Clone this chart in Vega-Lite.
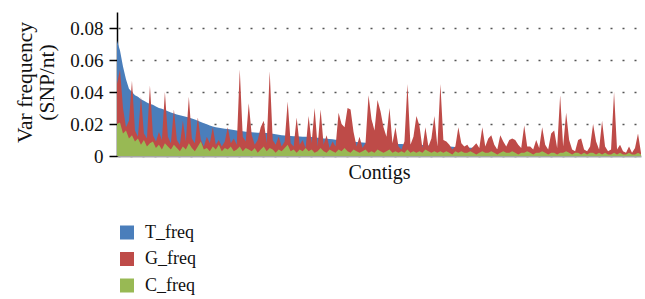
{
  "$schema": "https://vega.github.io/schema/vega-lite/v6.json",
  "autosize": {"type": "none"},
  "padding": {"left": 117, "top": 12, "right": 4, "bottom": 143},
  "width": 524,
  "height": 144,
  "background": "white",
  "config": {
    "font": "Liberation Serif",
    "view": {"stroke": null},
    "axis": {"labelFont": "Liberation Serif", "titleFont": "Liberation Serif", "titleFontWeight": "normal", "labelColor": "#111", "titleColor": "#111"}
  },
  "data": {"values": [
    {"i":0,"T":0.072,"G":0.045,"C":0.020},{"i":1,"T":0.066,"G":0.054,"C":0.021},{"i":2,"T":0.056,"G":0.030,"C":0.014},{"i":3,"T":0.048,"G":0.018,"C":0.016},{"i":4,"T":0.042,"G":0.022,"C":0.011},
    {"i":5,"T":0.040,"G":0.047,"C":0.013},{"i":6,"T":0.038,"G":0.016,"C":0.009},{"i":7,"T":0.037,"G":0.012,"C":0.011},{"i":8,"T":0.0355,"G":0.037,"C":0.007},{"i":9,"T":0.0345,"G":0.014,"C":0.010},
    {"i":10,"T":0.0335,"G":0.011,"C":0.006},{"i":11,"T":0.0325,"G":0.044,"C":0.008},{"i":12,"T":0.032,"G":0.013,"C":0.009},{"i":13,"T":0.031,"G":0.009,"C":0.005},{"i":14,"T":0.030,"G":0.015,"C":0.007},
    {"i":15,"T":0.0295,"G":0.010,"C":0.004},{"i":16,"T":0.0288,"G":0.040,"C":0.008},{"i":17,"T":0.028,"G":0.012,"C":0.006},{"i":18,"T":0.0272,"G":0.008,"C":0.004},{"i":19,"T":0.0265,"G":0.029,"C":0.007},
    {"i":20,"T":0.026,"G":0.010,"C":0.005},{"i":21,"T":0.0255,"G":0.007,"C":0.003},{"i":22,"T":0.025,"G":0.022,"C":0.006},{"i":23,"T":0.0245,"G":0.009,"C":0.004},{"i":24,"T":0.024,"G":0.037,"C":0.008},
    {"i":25,"T":0.0235,"G":0.011,"C":0.005},{"i":26,"T":0.0228,"G":0.008,"C":0.003},{"i":27,"T":0.022,"G":0.024,"C":0.006},{"i":28,"T":0.0213,"G":0.010,"C":0.009},{"i":29,"T":0.0205,"G":0.006,"C":0.004},
    {"i":30,"T":0.0198,"G":0.012,"C":0.005},{"i":31,"T":0.019,"G":0.008,"C":0.003},{"i":32,"T":0.0185,"G":0.018,"C":0.006},{"i":33,"T":0.018,"G":0.007,"C":0.004},{"i":34,"T":0.0177,"G":0.010,"C":0.007},
    {"i":35,"T":0.0174,"G":0.006,"C":0.003},{"i":36,"T":0.0171,"G":0.009,"C":0.005},{"i":37,"T":0.0168,"G":0.018,"C":0.004},{"i":38,"T":0.0165,"G":0.008,"C":0.006},{"i":39,"T":0.0162,"G":0.011,"C":0.003},
    {"i":40,"T":0.016,"G":0.007,"C":0.004},{"i":41,"T":0.0157,"G":0.054,"C":0.006},{"i":42,"T":0.0154,"G":0.012,"C":0.003},{"i":43,"T":0.0152,"G":0.009,"C":0.005},{"i":44,"T":0.015,"G":0.033,"C":0.004},
    {"i":45,"T":0.0148,"G":0.013,"C":0.003},{"i":46,"T":0.0147,"G":0.007,"C":0.005},{"i":47,"T":0.0146,"G":0.010,"C":0.002},{"i":48,"T":0.0145,"G":0.018,"C":0.004},{"i":49,"T":0.0144,"G":0.022,"C":0.006},
    {"i":50,"T":0.0143,"G":0.008,"C":0.003},{"i":51,"T":0.0142,"G":0.053,"C":0.005},{"i":52,"T":0.0139,"G":0.010,"C":0.004},{"i":53,"T":0.0136,"G":0.007,"C":0.002},{"i":54,"T":0.0133,"G":0.012,"C":0.004},
    {"i":55,"T":0.013,"G":0.006,"C":0.003},{"i":56,"T":0.0128,"G":0.009,"C":0.005},{"i":57,"T":0.0126,"G":0.034,"C":0.007},{"i":58,"T":0.0125,"G":0.008,"C":0.003},{"i":59,"T":0.0124,"G":0.006,"C":0.004},
    {"i":60,"T":0.0123,"G":0.024,"C":0.002},{"i":61,"T":0.0122,"G":0.007,"C":0.004},{"i":62,"T":0.0121,"G":0.010,"C":0.003},{"i":63,"T":0.012,"G":0.005,"C":0.005},{"i":64,"T":0.0119,"G":0.025,"C":0.003},
    {"i":65,"T":0.0118,"G":0.008,"C":0.004},{"i":66,"T":0.0116,"G":0.030,"C":0.002},{"i":67,"T":0.0114,"G":0.006,"C":0.003},{"i":68,"T":0.0112,"G":0.029,"C":0.005},{"i":69,"T":0.011,"G":0.007,"C":0.003},
    {"i":70,"T":0.0108,"G":0.013,"C":0.002},{"i":71,"T":0.0106,"G":0.005,"C":0.004},{"i":72,"T":0.0104,"G":0.009,"C":0.003},{"i":73,"T":0.0102,"G":0.006,"C":0.002},{"i":74,"T":0.0100,"G":0.027,"C":0.004},
    {"i":75,"T":0.0098,"G":0.020,"C":0.003},{"i":76,"T":0.0096,"G":0.018,"C":0.005},{"i":77,"T":0.0094,"G":0.030,"C":0.003},{"i":78,"T":0.0092,"G":0.029,"C":0.002},{"i":79,"T":0.0090,"G":0.015,"C":0.004},
    {"i":80,"T":0.0088,"G":0.006,"C":0.003},{"i":81,"T":0.0086,"G":0.012,"C":0.002},{"i":82,"T":0.0084,"G":0.005,"C":0.003},{"i":83,"T":0.0083,"G":0.008,"C":0.004},{"i":84,"T":0.0082,"G":0.038,"C":0.002},
    {"i":85,"T":0.0081,"G":0.023,"C":0.003},{"i":86,"T":0.008,"G":0.016,"C":0.002},{"i":87,"T":0.0079,"G":0.035,"C":0.004},{"i":88,"T":0.0078,"G":0.028,"C":0.003},{"i":89,"T":0.0078,"G":0.018,"C":0.002},
    {"i":90,"T":0.0077,"G":0.012,"C":0.003},{"i":91,"T":0.0077,"G":0.030,"C":0.004},{"i":92,"T":0.0076,"G":0.008,"C":0.002},{"i":93,"T":0.0076,"G":0.018,"C":0.003},{"i":94,"T":0.0075,"G":0.006,"C":0.002},
    {"i":95,"T":0.0075,"G":0.004,"C":0.003},{"i":96,"T":0.0074,"G":0.009,"C":0.002},{"i":97,"T":0.0073,"G":0.045,"C":0.004},{"i":98,"T":0.0072,"G":0.007,"C":0.002},{"i":99,"T":0.0071,"G":0.012,"C":0.003},
    {"i":100,"T":0.0070,"G":0.025,"C":0.002},{"i":101,"T":0.0069,"G":0.019,"C":0.003},{"i":102,"T":0.0068,"G":0.005,"C":0.002},{"i":103,"T":0.0067,"G":0.018,"C":0.004},{"i":104,"T":0.0066,"G":0.006,"C":0.003},
    {"i":105,"T":0.0065,"G":0.011,"C":0.002},{"i":106,"T":0.0064,"G":0.025,"C":0.003},{"i":107,"T":0.0063,"G":0.006,"C":0.002},{"i":108,"T":0.0062,"G":0.045,"C":0.003},{"i":109,"T":0.0061,"G":0.010,"C":0.002},
    {"i":110,"T":0.006,"G":0.009,"C":0.003},{"i":111,"T":0.0059,"G":0.007,"C":0.002},{"i":112,"T":0.0058,"G":0.004,"C":0.001},{"i":113,"T":0.0057,"G":0.006,"C":0.003},{"i":114,"T":0.0056,"G":0.018,"C":0.002},
    {"i":115,"T":0.0055,"G":0.008,"C":0.003},{"i":116,"T":0.0054,"G":0.006,"C":0.002},{"i":117,"T":0.0053,"G":0.007,"C":0.002},{"i":118,"T":0.0052,"G":0.004,"C":0.003},{"i":119,"T":0.0051,"G":0.006,"C":0.002},
    {"i":120,"T":0.005,"G":0.008,"C":0.001},{"i":121,"T":0.0049,"G":0.005,"C":0.002},{"i":122,"T":0.0048,"G":0.018,"C":0.003},{"i":123,"T":0.0047,"G":0.006,"C":0.002},{"i":124,"T":0.0046,"G":0.011,"C":0.002},
    {"i":125,"T":0.0045,"G":0.013,"C":0.003},{"i":126,"T":0.0044,"G":0.007,"C":0.002},{"i":127,"T":0.0043,"G":0.004,"C":0.001},{"i":128,"T":0.0042,"G":0.013,"C":0.002},{"i":129,"T":0.0041,"G":0.009,"C":0.003},
    {"i":130,"T":0.004,"G":0.006,"C":0.002},{"i":131,"T":0.0039,"G":0.010,"C":0.002},{"i":132,"T":0.0038,"G":0.011,"C":0.003},{"i":133,"T":0.0037,"G":0.010,"C":0.002},{"i":134,"T":0.0036,"G":0.007,"C":0.001},
    {"i":135,"T":0.0035,"G":0.005,"C":0.002},{"i":136,"T":0.0034,"G":0.019,"C":0.002},{"i":137,"T":0.0033,"G":0.006,"C":0.003},{"i":138,"T":0.0032,"G":0.006,"C":0.002},{"i":139,"T":0.0031,"G":0.004,"C":0.001},
    {"i":140,"T":0.003,"G":0.010,"C":0.002},{"i":141,"T":0.0029,"G":0.005,"C":0.002},{"i":142,"T":0.0028,"G":0.018,"C":0.003},{"i":143,"T":0.0027,"G":0.007,"C":0.002},{"i":144,"T":0.0026,"G":0.004,"C":0.001},
    {"i":145,"T":0.0025,"G":0.014,"C":0.002},{"i":146,"T":0.0024,"G":0.016,"C":0.002},{"i":147,"T":0.0023,"G":0.005,"C":0.001},{"i":148,"T":0.0022,"G":0.038,"C":0.002},{"i":149,"T":0.0021,"G":0.006,"C":0.002},
    {"i":150,"T":0.002,"G":0.027,"C":0.003},{"i":151,"T":0.0019,"G":0.010,"C":0.002},{"i":152,"T":0.0018,"G":0.004,"C":0.001},{"i":153,"T":0.0018,"G":0.003,"C":0.002},{"i":154,"T":0.0017,"G":0.010,"C":0.002},
    {"i":155,"T":0.0016,"G":0.011,"C":0.001},{"i":156,"T":0.0015,"G":0.004,"C":0.002},{"i":157,"T":0.0015,"G":0.003,"C":0.001},{"i":158,"T":0.0014,"G":0.006,"C":0.002},{"i":159,"T":0.0013,"G":0.020,"C":0.002},
    {"i":160,"T":0.0013,"G":0.009,"C":0.001},{"i":161,"T":0.0012,"G":0.004,"C":0.002},{"i":162,"T":0.0012,"G":0.022,"C":0.001},{"i":163,"T":0.0011,"G":0.006,"C":0.002},{"i":164,"T":0.0011,"G":0.003,"C":0.001},
    {"i":165,"T":0.001,"G":0.004,"C":0.001},{"i":166,"T":0.001,"G":0.040,"C":0.002},{"i":167,"T":0.0009,"G":0.004,"C":0.001},{"i":168,"T":0.0009,"G":0.007,"C":0.002},{"i":169,"T":0.0008,"G":0.003,"C":0.001},
    {"i":170,"T":0.0008,"G":0.002,"C":0.001},{"i":171,"T":0.0007,"G":0.006,"C":0.002},{"i":172,"T":0.0007,"G":0.002,"C":0.001},{"i":173,"T":0.0006,"G":0.005,"C":0.001},{"i":174,"T":0.0005,"G":0.014,"C":0.002},
    {"i":175,"T":0.0004,"G":0.002,"C":0.001}
  ]},
  "encoding": {
    "x": {
      "field": "i", "type": "quantitative",
      "scale": {"domain": [0, 175], "nice": false, "zero": false},
      "axis": {"title": "Contigs", "labels": false, "ticks": false, "grid": false, "domainColor": "#a6a6a6", "domainWidth": 2, "titleFontSize": 20, "titlePadding": 6}
    }
  },
  "layer": [
    {
      "mark": {"type": "area", "interpolate": "linear"},
      "encoding": {
        "y": {
          "field": "T", "type": "quantitative",
          "scale": {"domain": [0, 0.09], "nice": false},
          "axis": {
            "title": ["Var frequency", "(SNP/nt)"],
            "titleFontSize": 21.5, "titleLineHeight": 22,
            "titleAngle": -90, "titleAlign": "center", "titleBaseline": "top", "titleX": -103, "titleY": 70,
            "values": [0, 0.02, 0.04, 0.06, 0.08], "tickCount": 10,
            "format": ".2~f",
            "labelFontSize": 19, "labelPadding": 6, "labelOverlap": false, "labelBound": false, "labelFlush": false,
            "tickSize": 8, "tickColor": "#000", "tickWidth": 1.5,
            "domainColor": "#000", "domainWidth": 1.5,
            "grid": true, "gridDash": [2, 10], "gridDashOffset": -1, "gridColor": "#555", "gridWidth": 1.5
          }
        },
        "color": {
          "datum": "T_freq", "type": "nominal",
          "scale": {"domain": ["T_freq", "G_freq", "C_freq"], "range": ["#4a7ebb", "#be4b48", "#98b954"]},
          "legend": {
            "title": null, "orient": "none", "legendX": 1, "legendY": 211.5,
            "symbolType": "square", "symbolSize": 196, "symbolStrokeWidth": 0, "symbolOpacity": 1,
            "labelFontSize": 18, "labelFont": "Liberation Serif", "labelColor": "#111", "labelOffset": 9,
            "rowPadding": 8.5, "padding": 0
          }
        }
      }
    },
    {
      "mark": {"type": "area", "interpolate": "linear"},
      "encoding": {
        "y": {"field": "G", "type": "quantitative"},
        "color": {"datum": "G_freq", "type": "nominal"}
      }
    },
    {
      "mark": {"type": "area", "interpolate": "linear"},
      "encoding": {
        "y": {"field": "C", "type": "quantitative"},
        "color": {"datum": "C_freq", "type": "nominal"}
      }
    }
  ]
}
